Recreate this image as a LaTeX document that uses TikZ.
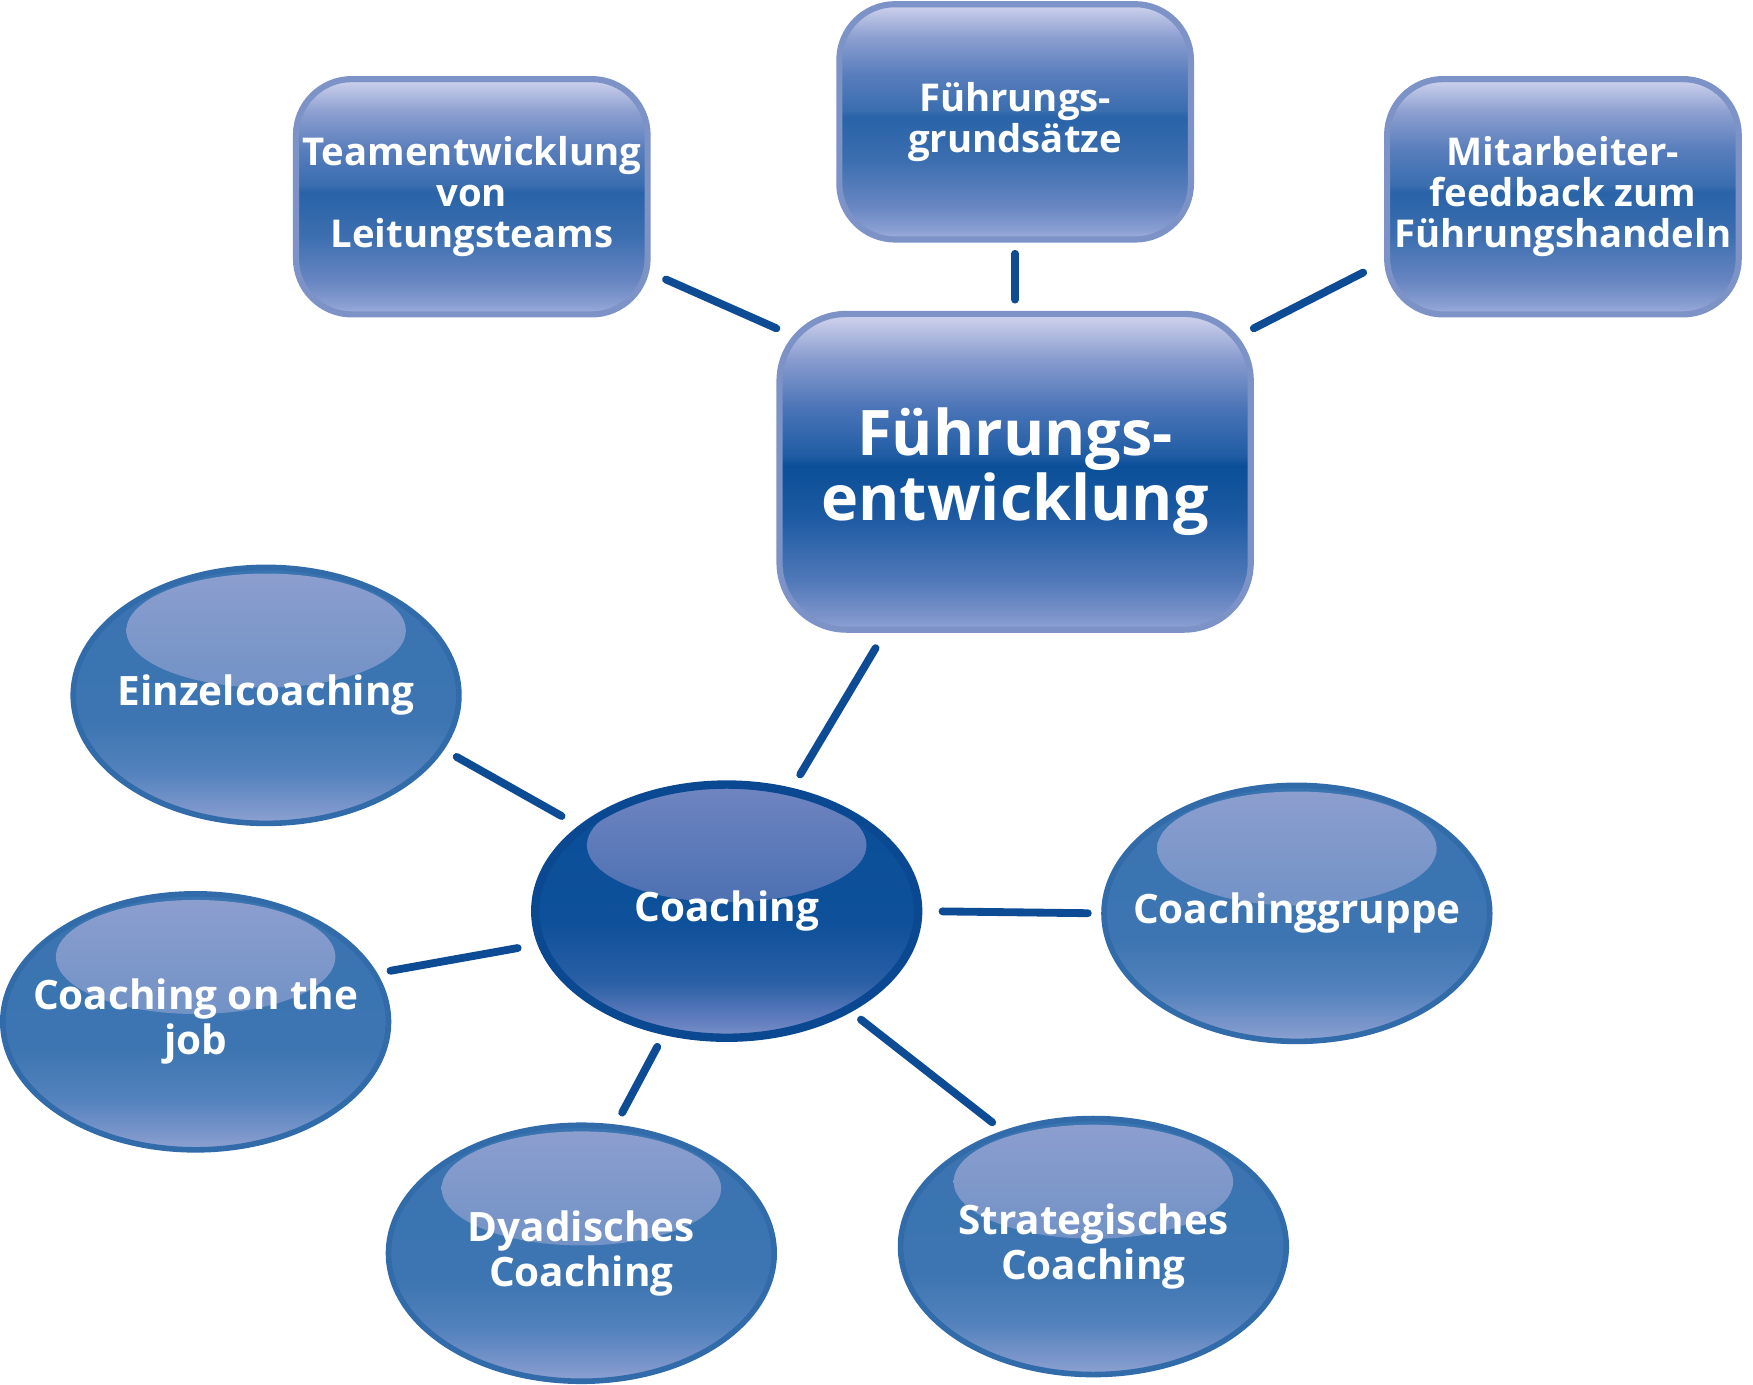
\documentclass[tikz,border=0pt]{standalone}
\usepackage{fontspec}
\setmainfont{Open Sans}
\usetikzlibrary{shapes.geometric}

\definecolor{boxborder}{HTML}{7D93C7}
\definecolor{bbA}{HTML}{9FB0DC}
\definecolor{bbB}{HTML}{8A9FD2}
\definecolor{bbC}{HTML}{6886C2}
\definecolor{bbD}{HTML}{3B6EAF}
\definecolor{bbE}{HTML}{2963A8}
\definecolor{bbF}{HTML}{3A6EAF}
\definecolor{bbG}{HTML}{587DBC}
\definecolor{bbH}{HTML}{8C9FD0}
\definecolor{bbI}{HTML}{C6CCE9}
\definecolor{feA}{HTML}{8FA2D4}
\definecolor{feB}{HTML}{7D94CB}
\definecolor{feC}{HTML}{4F78B8}
\definecolor{feD}{HTML}{1C5AA2}
\definecolor{feE}{HTML}{0A4F98}
\definecolor{feF}{HTML}{1F5CA4}
\definecolor{feG}{HTML}{4A74B7}
\definecolor{feH}{HTML}{8A9DCF}
\definecolor{feI}{HTML}{C8CDE9}
\definecolor{bubborder}{HTML}{316BAA}
\definecolor{buA}{HTML}{8EA2D2}
\definecolor{buB}{HTML}{7B96CB}
\definecolor{buC}{HTML}{5382BD}
\definecolor{buD}{HTML}{3C75B1}
\definecolor{buE}{HTML}{3A74B0}
\definecolor{hlA}{HTML}{5483BC}
\definecolor{hlB}{HTML}{8D9FCF}
\definecolor{coborder}{HTML}{0A4992}
\definecolor{coA}{HTML}{7D93CA}
\definecolor{coB}{HTML}{6580C0}
\definecolor{coC}{HTML}{2A5FA5}
\definecolor{coD}{HTML}{0E509A}
\definecolor{coE}{HTML}{0A4F98}
\definecolor{chA}{HTML}{26599F}
\definecolor{chB}{HTML}{6F85C1}
\definecolor{connblue}{HTML}{0D4B94}

\pgfdeclareverticalshading{boxshade}{100bp}{color(0bp)=(bbA); color(25bp)=(bbA); color(27bp)=(bbB); color(32bp)=(bbC); color(42bp)=(bbD); color(51bp)=(bbE); color(52.5bp)=(bbF); color(60bp)=(bbG); color(68bp)=(bbH); color(74bp)=(bbI); color(100bp)=(bbI)}
\pgfdeclareverticalshading{feshade}{100bp}{color(0bp)=(feA); color(25bp)=(feA); color(27bp)=(feB); color(33bp)=(feC); color(43bp)=(feD); color(51bp)=(feE); color(52.5bp)=(feF); color(60bp)=(feG); color(68bp)=(feH); color(74bp)=(feI); color(100bp)=(feI)}
\pgfdeclareverticalshading{bubshade}{100bp}{color(0bp)=(buA); color(25bp)=(buA); color(28bp)=(buB); color(35bp)=(buC); color(45bp)=(buD); color(75bp)=(buE); color(100bp)=(buE)}
\pgfdeclareverticalshading{hlshade}{100bp}{color(0bp)=(hlA); color(25bp)=(hlA); color(75bp)=(hlB); color(100bp)=(hlB)}
\pgfdeclareverticalshading{coshade}{100bp}{color(0bp)=(coA); color(25bp)=(coA); color(28bp)=(coB); color(36bp)=(coC); color(48bp)=(coD); color(75bp)=(coE); color(100bp)=(coE)}
\pgfdeclareverticalshading{chshade}{100bp}{color(0bp)=(chA); color(25bp)=(chA); color(75bp)=(chB); color(100bp)=(chB)}

\begin{document}
\begin{tikzpicture}[x=0.1mm,y=-0.1mm,
  box/.style={rectangle, rounded corners=5mm, draw=boxborder, line width=0.55mm,
    shade, shading=boxshade, minimum width=31.45mm, minimum height=21.05mm,
    inner sep=0pt, align=center, text=white,
    font=\fontsize{9.75}{10.5}\selectfont\bfseries},
  mainbox/.style={box, rounded corners=6mm, shading=feshade,
    minimum width=42.15mm, minimum height=28.25mm,
    font=\fontsize{16}{16.5}\selectfont\bfseries},
  lbl/.style={text=white, align=center, inner sep=0pt,
    font=\fontsize{10.3}{11.4}\selectfont\bfseries},
  bubble/.style={ellipse, draw=bubborder, line width=0.5mm,
    shade, shading=bubshade, minimum width=34.5mm, minimum height=22.9mm,
    inner sep=0pt,
    path picture={\shade[shading=hlshade] ([yshift=5.8mm]path picture bounding box.center)
      ellipse [x radius=12.5mm, y radius=5.1mm];}},
  darkbubble/.style={bubble, draw=coborder, line width=0.75mm, shading=coshade,
    minimum width=34.25mm, minimum height=22.65mm,
    path picture={\shade[shading=chshade] ([yshift=5.9mm]path picture bounding box.center)
      ellipse [x radius=12.5mm, y radius=5.1mm];}},
  conn/.style={draw=connblue, line width=0.7mm, line cap=round}]

\useasboundingbox (0,0) rectangle (1568,1238);

% top boxes
\node[box] (team) at (422,176) {Teamentwicklung\\von\\Leitungsteams};
\node[box] (gs) at (908,109) {Führungs-\\grundsätze};
\node[box] (mit) at (1398,176) {Mitarbeiter-\\feedback zum\\Führungshandeln};
\node[mainbox] (fe) at (908,422) {Führungs-\\entwicklung};

% bubbles
\node[bubble, label={[lbl]center:{Einzelcoaching}}] (einzel) at (238,622) {};
\node[darkbubble, label={[lbl]center:{Coaching}}] (coach) at (650,815) {};
\node[bubble, label={[lbl]center:{Coachinggruppe}}] (grp) at (1160,817) {};
\node[bubble, label={[lbl]center:{Coaching on the\\job}}] (job) at (175,914) {};
\node[bubble, label={[lbl]center:{Dyadisches\\Coaching}}] (dya) at (520,1121) {};
\node[bubble, label={[lbl]center:{Strategisches\\Coaching}}] (strat) at (978,1115) {};

% connectors
\draw[conn, shorten <=1.5mm] (team.-23) -- (fe.149.6);
\draw[conn, shorten <=1mm, shorten >=1mm] (gs.south) -- (fe.north);
\draw[conn, shorten <=2.1mm] (mit.-160.4) -- (fe.31.5);
\draw[conn, shorten <=1.6mm, shorten >=1.4mm] (fe.-129.6) -- (coach.62.5);
\draw[conn, shorten <=1.3mm, shorten >=1.75mm] (einzel.-17.5) -- (coach.150.1);
\draw[conn, shorten <=1.2mm, shorten >=1.8mm] (job.15.5) -- (coach.-170.3);
\draw[conn, shorten <=1.8mm, shorten >=1.2mm] (coach.0) -- (grp.180);
\draw[conn, shorten <=1.2mm, shorten >=1.2mm] (coach.-117.5) -- (dya.75.9);
\draw[conn, shorten <=1.1mm, shorten >=1.2mm] (coach.-39) -- (strat.128);
\end{tikzpicture}
\end{document}
